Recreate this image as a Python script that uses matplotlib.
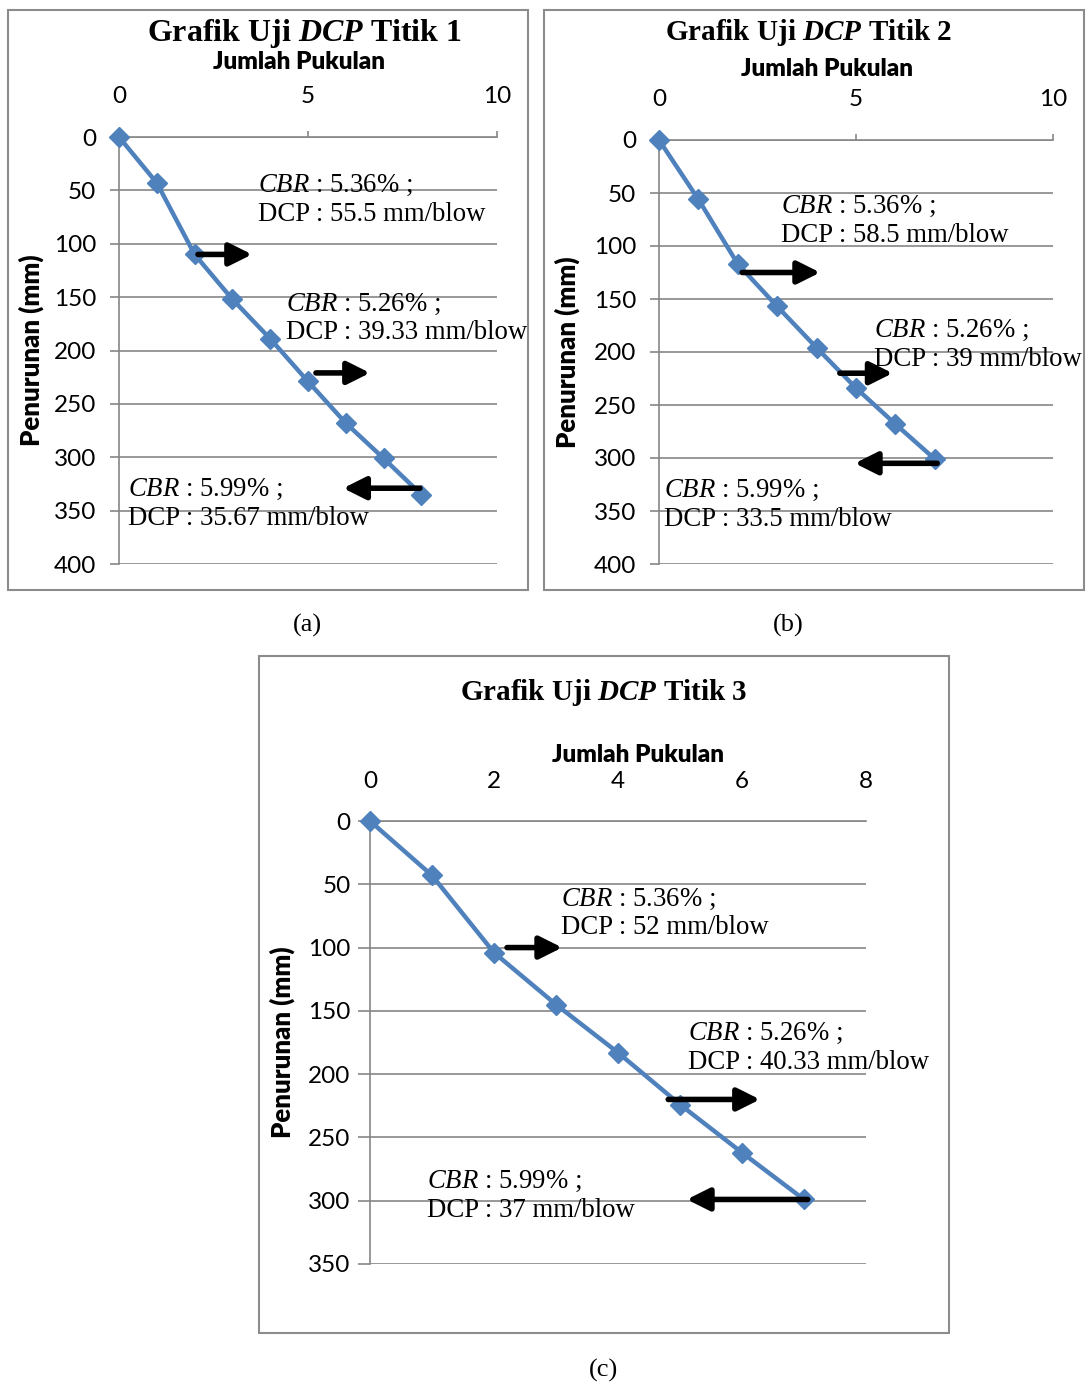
import matplotlib.pyplot as plt
from matplotlib.patches import Rectangle

# data: jumlah pukulan vs penurunan (mm)
pukulan_1 = [0, 1, 2, 3, 4, 5, 6, 7, 8]
penurunan_1 = [0, 43, 110, 152, 189, 229, 268, 301, 335]

pukulan_2 = [0, 1, 2, 3, 4, 5, 6, 7]
penurunan_2 = [0, 56, 117, 157, 196, 234, 268, 301]

pukulan_3 = [0, 1, 2, 3, 4, 5, 6, 7]
penurunan_3 = [0, 43, 104, 145, 183, 224, 262, 299]

cbr_1 = ["5.36%", "5.26%", "5.99%"]
dcp_1 = ["55.5", "39.33", "35.67"]
cbr_2 = ["5.36%", "5.26%", "5.99%"]
dcp_2 = ["58.5", "39", "33.5"]
cbr_3 = ["5.36%", "5.26%", "5.99%"]
dcp_3 = ["52", "40.33", "37"]

# label positions (x, y center) and arrows (x_start, x_end, y) in data units
label_pos_1 = [(3.68, 59), (4.42, 170), (0.24, 344)]
arrows_1 = [(2.09, 3.52, 110), (5.21, 6.64, 221), (7.96, 5.93, 329)]
label_pos_2 = [(3.10, 76), (5.46, 193), (0.13, 344)]
arrows_2 = [(2.11, 4.09, 125), (4.59, 5.93, 220), (7.06, 4.97, 305)]
label_pos_3 = [(3.08, 73), (5.13, 179), (0.92, 296)]
arrows_3 = [(2.21, 3.10, 100), (4.81, 6.29, 220), (7.06, 5.11, 299)]

W, H = 1086, 1384
plt.rcParams['mathtext.fontset'] = 'custom'
plt.rcParams['mathtext.rm'] = 'Liberation Serif'
plt.rcParams['mathtext.it'] = 'Liberation Serif:italic'
# bold italic for the titles
plt.rcParams['mathtext.sf'] = 'Liberation Serif:italic:bold'

fig = plt.figure(figsize=(W / 100, H / 100), dpi=100)
fig.patch.set_facecolor('white')

BLUE = '#4F81BD'
GRID = '#868686'
SANS = 'Lato'
SERIF = 'Liberation Serif'


def px_rect(x0, y0, x1, y1):
    return [x0 / W, 1 - y1 / H, (x1 - x0) / W, (y1 - y0) / H]


def frame(x0, y0, x1, y1):
    fig.patches.append(Rectangle((x0 / W, 1 - y1 / H), (x1 - x0) / W, (y1 - y0) / H,
                                 transform=fig.transFigure, fill=False,
                                 edgecolor='#8c8c8c', lw=1.5))


def fig_text(x, y, s, **kw):
    fig.text(x / W, 1 - y / H, s, ha='center', va='center', **kw)


def draw_chart(rect, x, y, xmax, xstep, ymax, labels, arrows, cbr, dcp,
               ylen, ypad, top_ticks, ylab_x):
    ax = fig.add_axes(px_rect(*rect))
    ax.patch.set_alpha(0)
    ax.plot(x, y, color=BLUE, lw=3.2, marker='D', ms=10, mfc=BLUE, mec=BLUE,
            zorder=3, clip_on=False)
    ax.set_xlim(0, xmax)
    ax.set_ylim(ymax, 0)
    ax.set_xticks(range(0, xmax + 1, xstep))
    ax.set_yticks(range(0, ymax + 1, 50))
    ax.xaxis.tick_top()
    ax.grid(axis='y', color=GRID, lw=1.2)
    for s in ['right', 'bottom']:
        ax.spines[s].set_visible(False)
    for s in ['left', 'top']:
        ax.spines[s].set_color(GRID)
        ax.spines[s].set_linewidth(1.2)
    ax.tick_params(axis='x', length=4.5 if top_ticks else 0, width=1.2, color=GRID,
                   pad=17 if top_ticks else 21, labelsize=17.5)
    ax.tick_params(axis='y', length=ylen, width=1.2, color=GRID, pad=ypad, labelsize=17.5)
    for t in ax.get_xticklabels() + ax.get_yticklabels():
        t.set_fontfamily(SANS)
    ax.set_axisbelow(True)

    for (lx, ly), c, d in zip(labels, cbr, dcp):
        ax.text(lx, ly, "$\\mathit{CBR}$ : %s ;\nDCP : %s mm/blow" % (c, d),
                fontfamily=SERIF, fontsize=19.3, ha='left', va='center',
                linespacing=1.2, zorder=4)
    for xs, xe, ay in arrows:
        ax.annotate('', xy=(xe, ay), xytext=(xs, ay), annotation_clip=False,
                    arrowprops=dict(arrowstyle='-|>', color='black', lw=4,
                                    mutation_scale=34, shrinkA=0, shrinkB=0),
                    zorder=5)
    fig.text(ylab_x / W, 1 - (rect[1] + rect[3]) / 2 / H, 'Penurunan (mm)',
             rotation=90, ha='center', va='center', fontfamily=SANS,
             fontweight='heavy', fontsize=18.5)
    return ax


# Titik 1
frame(8, 10, 528, 590)
ax1 = draw_chart((119, 137, 497, 564), pukulan_1, penurunan_1, 10, 5, 400,
                 label_pos_1, arrows_1, cbr_1, dcp_1, 6.5, 10, True, 31)
fig_text(304, 34, 'Grafik Uji $\\mathsf{DCP}$ Titik 1', fontfamily=SERIF,
         fontweight='bold', fontsize=23)
fig_text(299, 62, 'Jumlah Pukulan', fontfamily=SANS, fontweight='heavy', fontsize=17.5)
fig_text(307, 625, '(a)', fontfamily=SERIF, fontsize=19)

# Titik 2
frame(544, 10, 1084, 590)
ax2 = draw_chart((659, 140, 1053, 564), pukulan_2, penurunan_2, 10, 5, 400,
                 label_pos_2, arrows_2, cbr_2, dcp_2, 6.5, 10, True, 567)
fig_text(809, 32, 'Grafik Uji $\\mathsf{DCP}$ Titik 2', fontfamily=SERIF,
         fontweight='bold', fontsize=21)
fig_text(827, 69, 'Jumlah Pukulan', fontfamily=SANS, fontweight='heavy', fontsize=17.5)
fig_text(788, 625, '(b)', fontfamily=SERIF, fontsize=19)

# Titik 3
frame(259, 656, 949, 1333)
ax3 = draw_chart((370, 821, 866, 1264), pukulan_3, penurunan_3, 8, 2, 350,
                 label_pos_3, arrows_3, cbr_3, dcp_3, 8.5, 5.5, False, 282)
fig_text(604, 693, 'Grafik Uji $\\mathsf{DCP}$ Titik 3', fontfamily=SERIF,
         fontweight='bold', fontsize=21)
fig_text(638, 755, 'Jumlah Pukulan', fontfamily=SANS, fontweight='heavy', fontsize=17.5)
fig_text(603, 1370, '(c)', fontfamily=SERIF, fontsize=19)

fig.savefig('out.png', dpi=100, facecolor='white')
